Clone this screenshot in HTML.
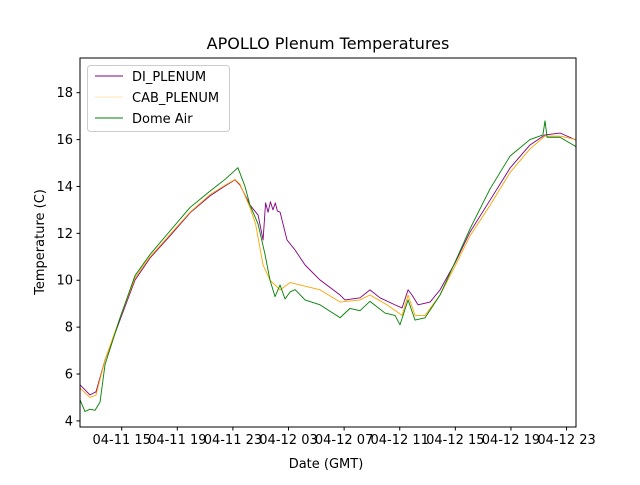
<!DOCTYPE html>
<html><head><meta charset="utf-8"><style>body{margin:0;background:#fff}svg{font-family:"DejaVu Sans","Liberation Sans",sans-serif}</style></head>
<body>
<svg id="c" width="640" height="480"></svg>
<script>
const xTicks=[3,7,11,15,19,23,27,31,35];
const xTickLabels=["04-11 15","04-11 19","04-11 23","04-12 03","04-12 07","04-12 11","04-12 15","04-12 19","04-12 23"];
const yTicks=[4,6,8,10,12,14,16,18];
const diHours=[0,0.72,1.15,1.8,2.88,3.96,5.04,6.47,7.91,9.35,10.43,11.15,11.51,12.23,12.81,13.17,13.35,13.53,13.7,13.88,14.05,14.2,14.39,14.89,15.47,16.19,17.27,18.71,19.06,20.14,20.86,21.58,22.66,23.17,23.6,23.88,24.32,25.18,25.9,26.98,28.06,29.5,30.94,32.37,33.45,34.53,35.68];
const diTemps=[5.54,5.11,5.24,6.6,8.31,10.01,10.95,11.89,12.87,13.6,14.02,14.28,14.06,13.21,12.78,11.72,13.3,12.9,13.35,13.0,13.3,12.95,12.91,11.72,11.29,10.65,10.01,9.37,9.16,9.25,9.59,9.25,8.95,8.82,9.59,9.37,8.95,9.07,9.59,10.74,12.06,13.42,14.79,15.77,16.2,16.28,15.98];
const cabHours=[0,0.72,1.15,1.8,2.88,3.96,5.04,6.47,7.91,9.35,10.43,11.15,11.51,12.23,12.63,13.17,13.67,14.39,15.11,15.83,17.27,18.71,20.14,20.86,22.09,23.17,23.6,24.1,24.82,25.9,26.98,28.06,29.5,30.94,32.37,33.45,34.53,35.68];
const cabTemps=[5.4,5.0,5.1,6.6,8.4,10.1,11.0,11.95,12.9,13.65,14.05,14.3,14.1,13.1,12.4,10.65,10.0,9.59,9.9,9.8,9.59,9.07,9.16,9.37,8.95,8.5,9.37,8.5,8.5,9.37,10.6,11.9,13.2,14.6,15.6,16.15,16.15,16.0];
const domeHours=[0,0.36,0.72,1.08,1.44,1.8,2.88,3.96,5.04,6.47,7.91,9.35,10.43,11.36,11.87,12.23,12.81,13.31,13.67,14.03,14.39,14.75,15.11,15.47,16.19,17.27,18.71,19.42,20.14,20.86,21.94,22.66,23.02,23.6,24.1,24.82,25.9,27.0,28.06,29.5,30.94,32.37,33.3,33.45,33.6,34.53,35.68];
const domeTemps=[4.9,4.4,4.5,4.45,4.8,6.4,8.4,10.2,11.1,12.1,13.1,13.8,14.3,14.8,14.0,13.2,12.4,11.1,10.0,9.3,9.8,9.2,9.5,9.6,9.16,8.95,8.4,8.8,8.7,9.1,8.6,8.5,8.1,9.16,8.3,8.4,9.37,10.8,12.2,13.9,15.3,16.0,16.2,16.8,16.1,16.1,15.7];
const NS="http://www.w3.org/2000/svg",svg=document.getElementById('c');
const L=80,R=576,T=58,B=427,x0=0,x1=35.68,y0=3.74,y1=19.48;
const sx=v=>L+(v-x0)/(x1-x0)*(R-L), sy=v=>B-(v-y0)/(y1-y0)*(B-T);
function mk(t,a,txt){const e=document.createElementNS(NS,t);for(const k in a)e.setAttribute(k,a[k]);if(txt!=null)e.textContent=txt;svg.appendChild(e);return e;}
function series(h,v,col,w,name){const p=mk('polyline',{points:h.map((x,i)=>sx(x)+','+sy(v[i])).join(' '),fill:'none',stroke:col,'stroke-width':w,'stroke-linejoin':'round'});

}
series(diHours,diTemps,'purple',0.9,'di-plenum-line');
series(cabHours,cabTemps,'orange',0.9,'cab-plenum-line');
series(domeHours,domeTemps,'green',0.9,'dome-air-line');
const fr=mk('rect',{x:L,y:T,width:R-L,height:B-T,fill:'none',stroke:'#000','stroke-width':1});


xTicks.forEach((t,i)=>{const x=sx(t);mk('line',{x1:x,x2:x,y1:B,y2:B+3.5,stroke:'#000'});
const tl=mk('text',{x:x,y:B+17,'text-anchor':'middle','font-size':13},xTickLabels[i]);

});
yTicks.forEach(t=>{const y=sy(t);mk('line',{x1:L-3.5,x2:L,y1:y,y2:y,stroke:'#000'});
const tl=mk('text',{x:L-7,y:y+4.5,'text-anchor':'end','font-size':13},t);

});
</script>
<svg style="position:absolute;left:0;top:0" width="640" height="480">
<text x="328" y="49" text-anchor="middle" font-size="16">APOLLO Plenum Temperatures</text>
<text x="326" y="468" text-anchor="middle" font-size="13">Date (GMT)</text>
<text transform="translate(44,242) rotate(-90)" text-anchor="middle" font-size="13">Temperature (C)</text>
<g>
<rect x="87.5" y="65.5" width="142" height="66" rx="3" fill="#fff" fill-opacity="0.8" stroke="#ccc"/>
<line x1="95" x2="123" y1="76" y2="76" stroke="purple" stroke-width="0.9"/>
<text x="132" y="81" font-size="13">DI_PLENUM</text>
<line x1="95" x2="123" y1="97" y2="97" stroke="orange" stroke-width="0.5" stroke-opacity="0.6"/>
<text x="132" y="102" font-size="13">CAB_PLENUM</text>
<line x1="95" x2="123" y1="118" y2="118" stroke="green" stroke-width="0.9"/>
<text x="132" y="123" font-size="13">Dome Air</text>
</g>
</svg>
</body></html>
